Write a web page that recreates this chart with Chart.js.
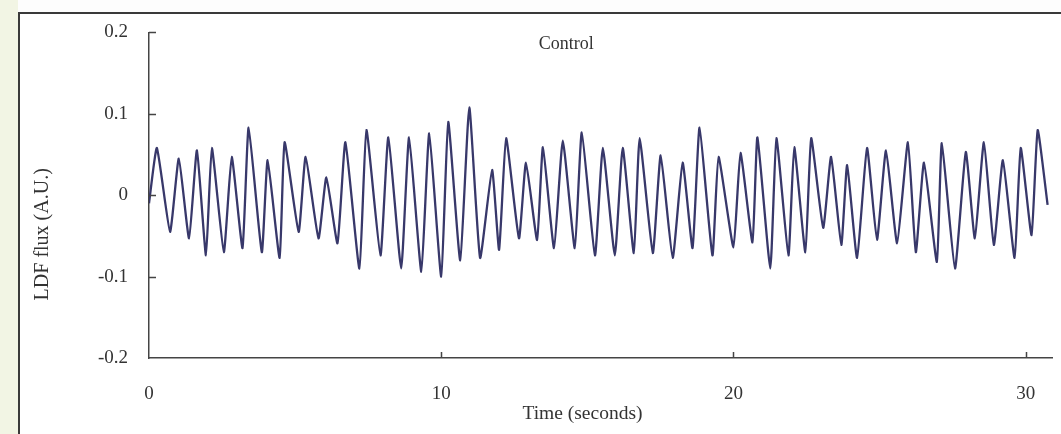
<!DOCTYPE html>
<html>
<head>
<meta charset="utf-8">
<script src="https://cdn.jsdelivr.net/npm/chart.js@4.4.1/dist/chart.umd.min.js"></script>
<style>
  html, body { margin: 0; padding: 0; background: #ffffff; }
  #wrap { position: relative; width: 1061px; height: 434px; overflow: hidden; background: #fdfdfd; }
  #strip { position: absolute; left: 0; top: 0; width: 18px; height: 434px; background: #f2f5e4; }
  #frame { position: absolute; left: 18px; top: 12px; width: 1100px; height: 500px; border: 2px solid #3a3a3a; background: #ffffff; box-sizing: border-box; }
  #box { position: absolute; left: 0; top: 0; width: 1061px; height: 434px; }
</style>
</head>
<body>
<div id="wrap">
  <div id="strip"></div>
  <div id="frame"></div>
  <div id="box"><canvas id="c"></canvas></div>
</div>
<script>
// ---- data ----
const times = [0, 0.27, 0.72, 1.02, 1.37, 1.64, 1.95, 2.15, 2.56, 2.83, 3.2, 3.41, 3.86, 4.06, 4.47,
  4.64, 5.12, 5.36, 5.8, 6.07, 6.45, 6.72, 7.2, 7.44, 7.92, 8.19, 8.63, 8.9,
  9.32, 9.59, 10.0, 10.24, 10.65, 10.96, 11.33, 11.74, 11.98, 12.22, 12.66, 12.9, 13.28,
  13.48, 13.86, 14.16, 14.57, 14.81, 15.26, 15.53, 15.94, 16.21, 16.59, 16.79, 17.24, 17.51,
  17.92, 18.26, 18.6, 18.84, 19.28, 19.49, 20.0, 20.24, 20.65, 20.82, 21.26, 21.47, 21.88, 22.08,
  22.46, 22.66, 23.07, 23.34, 23.69, 23.89, 24.23, 24.57, 24.91, 25.22, 25.6, 25.97, 26.24, 26.52,
  26.96, 27.13, 27.58, 27.95, 28.26, 28.57, 28.91, 29.22, 29.62, 29.83, 30.2, 30.41, 30.75];
const flux = [-0.01, 0.058, -0.045, 0.045, -0.053, 0.055, -0.074, 0.058, -0.07, 0.047, -0.065, 0.083, -0.07, 0.043, -0.077,
  0.065, -0.045, 0.047, -0.053, 0.022, -0.059, 0.065, -0.09, 0.08, -0.074, 0.071, -0.09, 0.071,
  -0.094, 0.076, -0.1, 0.09, -0.08, 0.108, -0.077, 0.031, -0.067, 0.07, -0.053, 0.04, -0.055,
  0.059, -0.065, 0.067, -0.065, 0.077, -0.074, 0.058, -0.074, 0.058, -0.071, 0.07, -0.071, 0.049,
  -0.077, 0.04, -0.065, 0.083, -0.074, 0.047, -0.064, 0.052, -0.058, 0.071, -0.09, 0.07, -0.074, 0.059,
  -0.07, 0.07, -0.04, 0.047, -0.061, 0.037, -0.077, 0.058, -0.055, 0.055, -0.059, 0.065, -0.07, 0.04,
  -0.082, 0.064, -0.09, 0.053, -0.053, 0.065, -0.061, 0.043, -0.077, 0.058, -0.049, 0.08, -0.012];
const xTicks = [0, 10, 20, 30];
const xTickLabels = ['0', '10', '20', '30'];
const yTicks = [0.2, 0.1, 0, -0.1, -0.2];
const yTickLabels = ['0.2', '0.1', '0', '-0.1', '-0.2'];
const titleText = 'Control';
const xTitle = 'Time (seconds)';
const yTitle = 'LDF flux (A.U.)';

const points = times.map((t, i) => ({ x: t, y: flux[i] }));
const FONT = "'Liberation Serif', 'DejaVu Serif', serif";
const AXIS = '#444444';
const TEXT = '#333333';

const decor = {
  id: 'decor',
  afterDraw(chart) {
    const { ctx, chartArea, scales } = chart;
    const xs = scales.x, ys = scales.y;
    ctx.save();
    ctx.strokeStyle = AXIS;
    ctx.lineWidth = 1.5;
    ctx.beginPath();
    yTicks.forEach(v => {
      if (v === -0.2) return;
      const py = Math.round(ys.getPixelForValue(v)) + 0.5;
      ctx.moveTo(chartArea.left, py);
      ctx.lineTo(chartArea.left + 7, py);
    });
    xTicks.forEach(v => {
      if (v === 0) return;
      const px = Math.round(xs.getPixelForValue(v)) + 0.5;
      ctx.moveTo(px, chartArea.bottom);
      ctx.lineTo(px, chartArea.bottom - 6);
    });
    ctx.stroke();
    ctx.fillStyle = TEXT;
    ctx.textAlign = 'center';
    ctx.textBaseline = 'middle';
    // chart title inside the plot
    ctx.font = '18px ' + FONT;
    ctx.fillText(titleText, chartArea.left + (chartArea.right - chartArea.left) * 0.462, chartArea.top + 12);
    // x axis title
    ctx.font = '19.5px ' + FONT;
    ctx.fillText(xTitle, chartArea.left + (chartArea.right - chartArea.left) * 0.48, chartArea.bottom + 56);
    // y axis title (rotated)
    ctx.font = '20px ' + FONT;
    ctx.translate(43, chartArea.top + (chartArea.bottom - chartArea.top) * 0.62);
    ctx.rotate(-Math.PI / 2);
    ctx.fillText(yTitle, 0, 0);
    ctx.restore();
  }
};

new Chart(document.getElementById('c'), {
  type: 'line',
  data: {
    datasets: [{
      data: points,
      borderColor: '#38386a',
      borderWidth: 2.3,
      pointRadius: 0,
      tension: 0.15,
      fill: false
    }]
  },
  options: {
    responsive: true,
    maintainAspectRatio: false,
    animation: false,
    events: [],
    layout: { padding: { left: 0, top: 32, right: 9, bottom: 0 } },
    plugins: { legend: { display: false }, tooltip: { enabled: false }, title: { display: false } },
    scales: {
      x: {
        type: 'linear',
        min: 0,
        max: 30.9,
        afterBuildTicks: s => { s.ticks = xTicks.map(v => ({ value: v })); },
        afterFit: s => { s.height = 76; },
        grid: { display: true, drawOnChartArea: false, drawTicks: false },
        border: { display: true, color: AXIS, width: 1.5 },
        ticks: {
          padding: 25,
          color: TEXT,
          font: { family: FONT, size: 19 },
          maxRotation: 0,
          callback: (v) => { const i = xTicks.indexOf(v); return i >= 0 ? xTickLabels[i] : ''; }
        }
      },
      y: {
        type: 'linear',
        min: -0.2,
        max: 0.2,
        afterBuildTicks: s => { s.ticks = yTicks.map(v => ({ value: v })); },
        afterFit: s => { s.width = 149; },
        grid: { display: true, drawOnChartArea: false, drawTicks: false },
        border: { display: true, color: AXIS, width: 1.5 },
        ticks: {
          padding: 21,
          color: TEXT,
          font: { family: FONT, size: 19 },
          callback: (v) => { const i = yTicks.findIndex(t => Math.abs(t - v) < 1e-9); return i >= 0 ? yTickLabels[i] : ''; }
        }
      }
    }
  },
  plugins: [decor]
});
</script>
</body>
</html>
